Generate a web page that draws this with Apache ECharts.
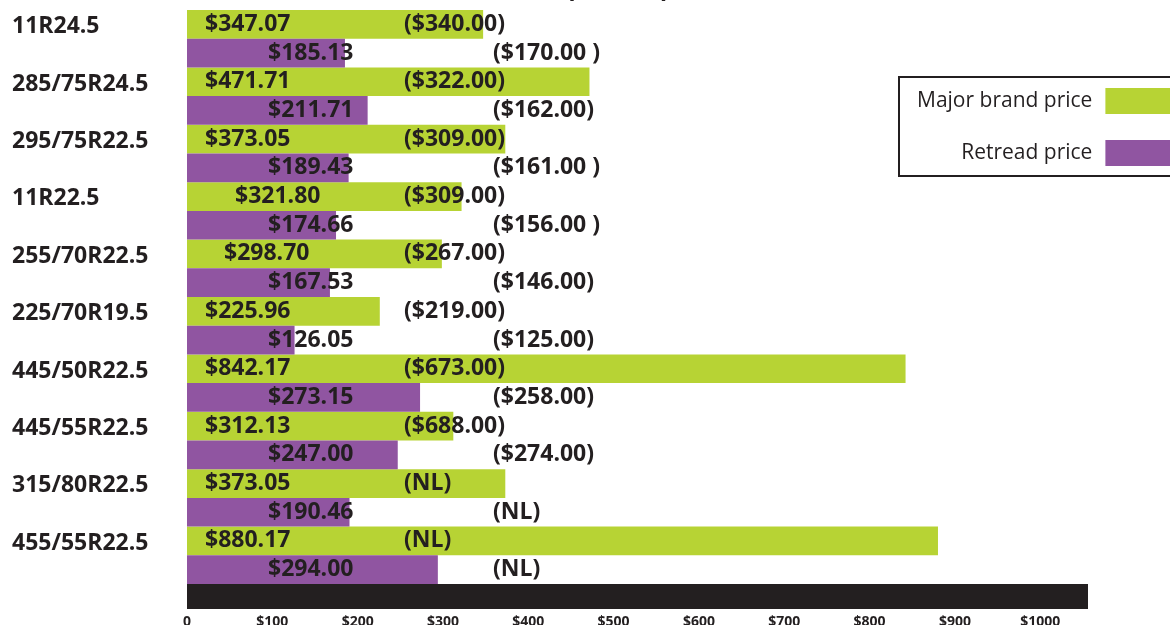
<!DOCTYPE html>
<html>
<head>
<meta charset="utf-8">
<script src="https://cdn.jsdelivr.net/npm/echarts@6/dist/echarts.min.js"></script>
<style>html,body{margin:0;padding:0;background:#fff;}#c{width:1170px;height:625px;}</style>
</head>
<body>
<div id="c"></div>
<script>
const categories = ['11R24.5','285/75R24.5','295/75R22.5','11R22.5','255/70R22.5','225/70R19.5','445/50R22.5','445/55R22.5','315/80R22.5','455/55R22.5'];
const majorBrand = [347.07,471.71,373.05,321.80,298.70,225.96,842.17,312.13,373.05,880.17];
const retread = [185.13,211.71,189.43,174.66,167.53,126.05,273.15,247.00,190.46,294.00];
const majorBrandParen = ['($340.00)','($322.00)','($309.00)','($309.00)','($267.00)','($219.00)','($673.00)','($688.00)','(NL)','(NL)'];
const retreadParen = ['($170.00 )','($162.00)','($161.00 )','($156.00 )','($146.00)','($125.00)','($258.00)','($274.00)','(NL)','(NL)'];
const xTickValues = [0,100,200,300,400,500,600,700,800,900,1000];
const xTickLabels = ['0','$100','$200','$300','$400','$500','$600','$700','$800','$900','$1000'];

const INK = '#231f20';
const FONT = "'Open Sans', 'Noto Sans', sans-serif";
const GREEN = '#b7d334';
const PURPLE = '#9055a1';

// label layout (style, not data)
const greenIndent = {3: 48, 4: 37};
const GREEN_DIST = 18, GREEN_PAREN_AT = 217;
const PURPLE_DIST = 81, PURPLE_PAREN_AT = 306;

function txt(extra) {
  return Object.assign({fontFamily: FONT, fontWeight: 'bold', fontSize: 23, color: INK}, extra || {});
}

const greenData = majorBrand.map((v, i) => {
  const d = greenIndent[i];
  if (d === undefined) return v;
  return {value: v, label: {distance: d, rich: {v: txt({width: GREEN_PAREN_AT - d})}}};
});

const chart = echarts.init(document.getElementById('c'), null, {renderer: 'canvas'});
chart.setOption({
  animation: false,
  backgroundColor: '#fff',
  title: {
    text: '(Retail price in parentheses)',
    left: 483, top: -28,
    textStyle: txt()
  },
  legend: {
    orient: 'vertical',
    left: 899, top: 77,
    align: 'right',
    icon: 'rect',
    itemWidth: 90, itemHeight: 26, itemGap: 26,
    padding: [11, 0, 10, 18],
    borderColor: INK, borderWidth: 2,
    textStyle: {fontFamily: FONT, fontSize: 21, color: INK, padding: [2, 8, 0, 0]},
    data: ['Major brand price', 'Retread price']
  },
  grid: {left: 187, right: 82, top: 10, bottom: 41, containLabel: false, outerBoundsMode: 'none'},
  xAxis: {
    type: 'value', min: 0, max: 1056, interval: 100,
    position: 'bottom', offset: 12.5,
    axisLine: {show: true, lineStyle: {color: INK, width: 25, cap: 'butt'}},
    axisTick: {show: false},
    splitLine: {show: false},
    axisLabel: {
      margin: 19, showMaxLabel: false,
      fontFamily: FONT, fontWeight: 'bold', fontSize: 14, color: INK,
      formatter: function (v) {
        const k = xTickValues.indexOf(v);
        return k < 0 ? '' : xTickLabels[k];
      }
    }
  },
  yAxis: {
    type: 'category', data: categories, inverse: true,
    axisLine: {show: false}, axisTick: {show: false}, splitLine: {show: false},
    axisLabel: {
      align: 'left', margin: 175, verticalAlign: 'bottom', lineHeight: 24,
      fontFamily: FONT, fontWeight: 'bold', fontSize: 23, color: INK
    }
  },
  series: [
    {
      name: 'Major brand price', type: 'bar', data: greenData,
      itemStyle: {color: GREEN},
      barGap: '0%', barCategoryGap: '0%',
      label: {
        show: true, position: 'insideLeft', distance: GREEN_DIST,
        formatter: p => '{v|$' + Number(p.value).toFixed(2) + '}{p|' + majorBrandParen[p.dataIndex] + '}',
        rich: {v: txt({width: GREEN_PAREN_AT - GREEN_DIST}), p: txt()}
      }
    },
    {
      name: 'Retread price', type: 'bar', data: retread,
      itemStyle: {color: PURPLE},
      barGap: '0%', barCategoryGap: '0%',
      label: {
        show: true, position: 'insideLeft', distance: PURPLE_DIST,
        formatter: p => '{v|$' + Number(p.value).toFixed(2) + '}{p|' + retreadParen[p.dataIndex] + '}',
        rich: {v: txt({width: PURPLE_PAREN_AT - PURPLE_DIST}), p: txt()}
      }
    }
  ]
});
</script>
</body>
</html>
